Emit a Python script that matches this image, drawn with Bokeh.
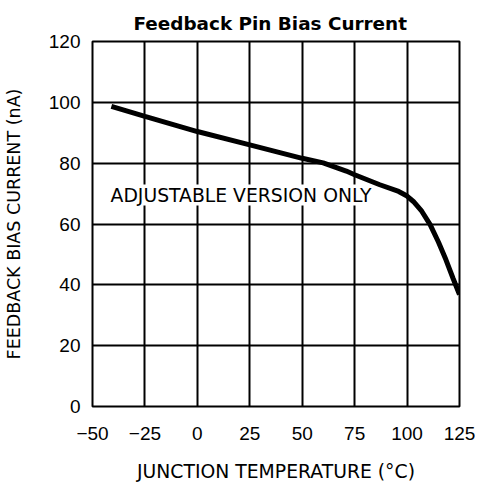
from bokeh.plotting import figure
from bokeh.models import Label, FixedTicker, Range1d
from bokeh.embed import file_html
from bokeh.resources import INLINE

temp_c = [-41, -25, 0, 25, 50, 60, 71, 75, 87, 96, 100, 103, 107, 111, 115, 118.5, 122, 125]
bias_na = [98.7, 95.4, 90.4, 86.0, 81.6, 80.1, 77.4, 76.2, 72.9, 70.7, 69.2, 67.4, 64.2, 59.8, 54.0, 48.3, 42.0, 36.8]
x_ticks = [-50, -25, 0, 25, 50, 75, 100, 125]
y_ticks = [0, 20, 40, 60, 80, 100, 120]

FONT = "DejaVu Sans"
TICK_FONT = "Liberation Sans"

p = figure(frame_width=367, frame_height=365, output_backend="svg", toolbar_location=None,
           x_range=Range1d(-50, 125), y_range=Range1d(0, 120),
           min_border_left=86, min_border_right=16, min_border_top=41, min_border_bottom=0)

p.title.text = "Feedback Pin Bias Current"
p.title.text_font = FONT
p.title.text_font_size = "18.4px"
p.title.text_font_style = "bold"
p.title.text_color = "black"
p.title.align = "left"
p.title.offset = 41
p.title.standoff = 16

p.outline_line_color = "black"
p.outline_line_width = 2
p.outline_line_alpha = 1.0

for g in (p.xgrid[0], p.ygrid[0]):
    g.grid_line_color = "black"
    g.grid_line_width = 2
    g.grid_line_alpha = 1.0
p.xgrid[0].ticker = FixedTicker(ticks=x_ticks)
p.ygrid[0].ticker = FixedTicker(ticks=y_ticks)

p.xaxis.ticker = FixedTicker(ticks=x_ticks)
p.yaxis.ticker = FixedTicker(ticks=y_ticks)
p.xaxis.axis_label = "JUNCTION TEMPERATURE (°C)"
p.yaxis.axis_label = "FEEDBACK BIAS CURRENT (nA)"
for ax in (p.xaxis[0], p.yaxis[0]):
    ax.axis_line_color = None
    ax.major_tick_line_color = None
    ax.minor_tick_line_color = None
    ax.major_tick_out = 0
    ax.major_tick_in = 0
    ax.minor_tick_out = 0
    ax.minor_tick_in = 0
    ax.major_label_text_font = TICK_FONT
    ax.major_label_text_font_size = "19px"
    ax.major_label_text_color = "black"
    ax.major_label_text_line_height = 1.0
    ax.axis_label_text_font = FONT
    ax.axis_label_text_font_style = "normal"
    ax.axis_label_text_color = "black"
    ax.axis_label_text_line_height = 1.0
p.xaxis.axis_label_text_font_size = "18.8px"
p.yaxis.axis_label_text_font_size = "17.5px"
p.xaxis.major_label_standoff = 20
p.yaxis.major_label_standoff = 12
p.xaxis.axis_label_standoff = 18
p.yaxis.axis_label_standoff = 22

p.line(temp_c, bias_na, line_color="black", line_width=5)

p.add_layout(Label(x=-41.4, y=69.5, text="ADJUSTABLE VERSION ONLY", text_font=FONT,
                   text_font_size="18.8px", text_color="black", text_baseline="middle",
                   background_fill_color="white"))

open("out.html", "w").write(file_html(p, INLINE))
